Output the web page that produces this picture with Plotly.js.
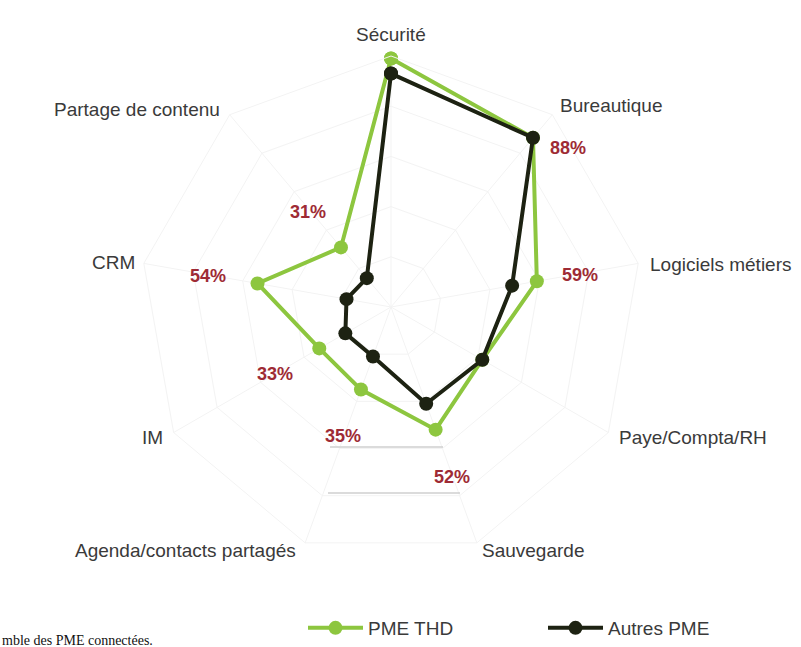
<!DOCTYPE html>
<html>
<head>
<meta charset="utf-8">
<script src="https://cdn.plot.ly/plotly-3.0.1.min.js"></script>
<style>html,body{margin:0;padding:0;background:#fff;}#chart{width:801px;height:647px;}</style>
</head>
<body>
<div id="chart"></div>
<script>
// ---- data ----
var categories = ['Sécurité','Bureautique','Logiciels métiers','Paye/Compta/RH','Sauvegarde','Agenda/contacts partagés','IM','CRM','Partage de contenu'];
var pmeTHD = [99, 88, 59, 42, 52, 35, 33, 54, 31];
var autresPME = [93, 88, 49, 42, 41, 21, 21, 18, 15];
var seriesNames = ['PME THD', 'Autres PME'];
var shownPct = [false, true, true, false, true, true, true, true, true]; // which THD values carry a label
var caption = 'mble des PME connectées.';

// ---- layout helpers (positions in px) ----
var W = 801, H = 647;
var labelPos = [[391,34],[611,106],[721,264],[693,437],[533,550],[185,550],[152,437],[113,263],[137,110]];
var pctPos = [null,[568,148],[580,275],null,[452,477],[343,436],[275,374],[208,276],[308,212]];
function px(x){return x/W;}
function py(y){return 1-y/H;}

function closed(a){return a.concat([a[0]]);}

var traces = [
  {type:'scatterpolar', r:closed(pmeTHD), theta:closed(categories), name:seriesNames[0],
   mode:'lines+markers', line:{color:'#8dc63f', width:4}, marker:{color:'#8dc63f', size:14},
   hoverinfo:'skip'},
  {type:'scatterpolar', r:closed(autresPME), theta:closed(categories), name:seriesNames[1],
   mode:'lines+markers', line:{color:'#1d2212', width:4}, marker:{color:'#1d2212', size:14},
   hoverinfo:'skip'}
];

var annotations = [];
categories.forEach(function(c,i){
  annotations.push({text:c, x:px(labelPos[i][0]), y:py(labelPos[i][1]), xref:'paper', yref:'paper',
    xanchor:'center', yanchor:'middle', showarrow:false,
    font:{family:'Liberation Sans, Arial, sans-serif', size:19, color:'#3a3a3a'}});
  if (shownPct[i]) {
    annotations.push({text:'<b>'+pmeTHD[i]+'%</b>', x:px(pctPos[i][0]), y:py(pctPos[i][1]), xref:'paper', yref:'paper',
      xanchor:'center', yanchor:'middle', showarrow:false,
      font:{family:'Liberation Sans, Arial, sans-serif', size:18, color:'#9e2b35'}});
  }
});
annotations.push({text:caption, x:0, y:py(640), xref:'paper', yref:'paper', xanchor:'left', yanchor:'middle',
  showarrow:false, font:{family:'Liberation Serif, serif', size:14, color:'#111'}});

var layout = {
  width:W, height:H, margin:{l:0,r:0,t:0,b:0},
  paper_bgcolor:'#fff', plot_bgcolor:'#fff',
  polar:{
    domain:{x:[px(140),px(642)], y:[py(558),py(56)]},
    bgcolor:'rgba(0,0,0,0)',
    gridshape:'linear',
    radialaxis:{range:[0,100], dtick:20, showticklabels:false, ticks:'', showline:false,
      gridcolor:'#f3f3f3', gridwidth:1},
    angularaxis:{direction:'clockwise', rotation:90, showticklabels:false, ticks:'',
      linecolor:'#f3f3f3', gridcolor:'#f3f3f3'}
  },
  showlegend:true,
  legend:{orientation:'h', x:px(303), y:0, xanchor:'left', yanchor:'bottom',
    entrywidth:170, itemwidth:55, borderwidth:0,
    font:{family:'Liberation Sans, Arial, sans-serif', size:19, color:'#3a3a3a'}, bgcolor:'rgba(0,0,0,0)'},
  shapes:[
    {type:'line', xref:'paper', yref:'paper', x0:px(330), x1:px(443), y0:py(447), y1:py(447), line:{color:'#cfcfcf', width:1.5}},
    {type:'line', xref:'paper', yref:'paper', x0:px(328), x1:px(460), y0:py(493), y1:py(493), line:{color:'#cfcfcf', width:1.5}}
  ],
  annotations:annotations
};

Plotly.newPlot('chart', traces, layout, {staticPlot:true, displayModeBar:false});
</script>
</body>
</html>
